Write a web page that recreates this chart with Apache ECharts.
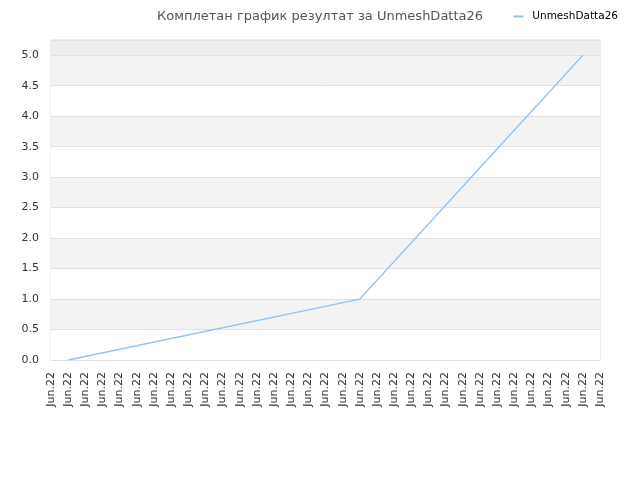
<!DOCTYPE html>
<html><head><meta charset="utf-8">
<script src="https://cdn.jsdelivr.net/npm/echarts@6/dist/echarts.min.js"></script>
<style>html,body{margin:0;padding:0;background:#fff}#c{width:640px;height:480px}</style>
</head><body><div id="c"></div>
<script>
var categories = ["Jun.22","Jun.22","Jun.22","Jun.22","Jun.22","Jun.22","Jun.22","Jun.22","Jun.22","Jun.22","Jun.22","Jun.22","Jun.22","Jun.22","Jun.22","Jun.22","Jun.22","Jun.22","Jun.22","Jun.22","Jun.22","Jun.22","Jun.22","Jun.22","Jun.22","Jun.22","Jun.22","Jun.22","Jun.22","Jun.22","Jun.22","Jun.22","Jun.22"];
var seriesName = "UnmeshDatta26";
var values = [null,0,null,null,null,null,null,null,null,null,null,null,null,null,null,null,null,null,1.0,null,null,null,null,null,null,null,null,null,null,null,null,5.0,null];
var titleText = "Комплетан график резултат за UnmeshDatta26";

var chart = echarts.init(document.getElementById('c'));
chart.setOption({
  animation: false,
  title: { text: titleText, left: 'center', top: 5,
    textStyle: { fontFamily: 'DejaVu Sans', fontSize: 13, fontWeight: 'normal', color: '#555' } },
  legend: { right: 17, top: 6, itemWidth: 10, itemHeight: 2,
    icon: 'rect',
    textStyle: { fontFamily: 'DejaVu Sans', fontSize: 10.5, color: '#000', padding: [0, 0, 0, 4] },
    data: [seriesName] },
  grid: { left: 51, right: 40, top: 40, bottom: 120, show: true, borderColor: '#dddddd', borderWidth: 1, backgroundColor: 'transparent' },
  xAxis: { type: 'category', data: categories, boundaryGap: false,
    axisLine: { show: false }, axisTick: { show: false },
    splitLine: { show: false },
    axisLabel: { rotate: 90, interval: 0, fontFamily: 'DejaVu Sans', fontSize: 11, color: '#333', margin: 12 } },
  yAxis: { type: 'value', min: 0, max: 5.25, interval: 0.5,
    axisLine: { show: false }, axisTick: { show: false },
    axisLabel: { fontFamily: 'DejaVu Sans', fontSize: 11, color: '#333', margin: 12,
      formatter: function (v) { return v > 5.01 ? '' : v.toFixed(1); } },
    splitLine: { show: true, lineStyle: { color: '#e0e0e0', width: 1 } },
    splitArea: { show: true, areaStyle: { color: ['#ffffff','#f3f3f3','#ffffff','#f3f3f3','#ffffff','#f3f3f3','#ffffff','#f3f3f3','#ffffff','#f3f3f3','#eeeeee'] } } },
  series: [{ name: seriesName, type: 'line', data: values, connectNulls: true,
    showSymbol: false, symbol: 'none',
    lineStyle: { color: '#90c3f3', width: 1.3 }, itemStyle: { color: '#90c3f3' } }]
});
</script></body></html>
